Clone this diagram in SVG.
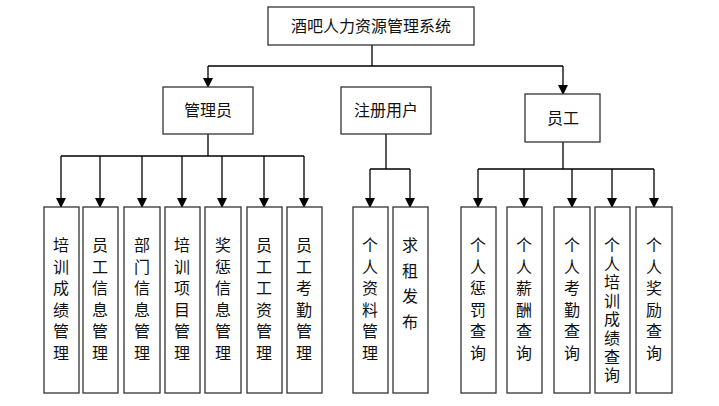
<svg xmlns="http://www.w3.org/2000/svg" width="719" height="406" viewBox="0 0 719 406">
<defs>
<marker id="ah" markerWidth="10" markerHeight="10" refX="9" refY="5" orient="auto" markerUnits="userSpaceOnUse"><path d="M0,0 L10,5 L0,10 Z" fill="#000"/></marker>
<style>
rect{fill:#fff;stroke:#333;stroke-width:1.3}
text{font-family:"Noto Sans CJK SC","Noto Sans CJK JP",sans-serif;font-size:16px;fill:#111;text-anchor:middle}
.c path{fill:none;stroke:#000;stroke-width:1.3}
.a{marker-end:url(#ah)}
</style>
</defs>
<rect x="0" y="0" width="719" height="406" style="fill:#fff;stroke:none"/>
<g class="c">
<path d="M372,45 V66 M208,66 H563"/>
<path class="a" d="M208,66 V87"/><path class="a" d="M563,66 V94"/>
<path d="M208,134 V156 M61,156 H304"/>
<path class="a" d="M61,156 V207"/><path class="a" d="M100,156 V207"/><path class="a" d="M142,156 V207"/><path class="a" d="M182,156 V207"/><path class="a" d="M222,156 V207"/><path class="a" d="M264,156 V207"/><path class="a" d="M304,156 V207"/>
<path d="M386,134 V169 M370,169 H410"/>
<path class="a" d="M370,169 V207"/><path class="a" d="M410,169 V207"/>
<path d="M563,142 V169 M478,169 H654"/>
<path class="a" d="M478,169 V207"/><path class="a" d="M524,169 V207"/><path class="a" d="M572,169 V207"/><path class="a" d="M612,169 V207"/><path class="a" d="M654,169 V207"/>
</g>
<g id="root"><rect x="268" y="7" width="206" height="38"/><text x="371" y="32">酒吧人力资源管理系统</text></g>
<g id="admin"><rect x="163" y="87" width="90" height="47"/><text x="208" y="116">管理员</text></g>
<g id="reg"><rect x="341" y="87" width="90" height="47"/><text x="386" y="116">注册用户</text></g>
<g id="emp"><rect x="525" y="94" width="75" height="48"/><text x="563" y="124">员工</text></g>
<g id="n1"><rect x="44" y="207" width="35" height="186"/><text><tspan x="61" y="251">培</tspan><tspan x="61" dy="21.5">训</tspan><tspan x="61" dy="21.5">成</tspan><tspan x="61" dy="21.5">绩</tspan><tspan x="61" dy="21.5">管</tspan><tspan x="61" dy="21.5">理</tspan></text></g>
<g id="n2"><rect x="83" y="207" width="35" height="186"/><text><tspan x="100" y="251">员</tspan><tspan x="100" dy="21.5">工</tspan><tspan x="100" dy="21.5">信</tspan><tspan x="100" dy="21.5">息</tspan><tspan x="100" dy="21.5">管</tspan><tspan x="100" dy="21.5">理</tspan></text></g>
<g id="n3"><rect x="124" y="207" width="36" height="186"/><text><tspan x="142" y="251">部</tspan><tspan x="142" dy="21.5">门</tspan><tspan x="142" dy="21.5">信</tspan><tspan x="142" dy="21.5">息</tspan><tspan x="142" dy="21.5">管</tspan><tspan x="142" dy="21.5">理</tspan></text></g>
<g id="n4"><rect x="165" y="207" width="35" height="186"/><text><tspan x="182" y="251">培</tspan><tspan x="182" dy="21.5">训</tspan><tspan x="182" dy="21.5">项</tspan><tspan x="182" dy="21.5">目</tspan><tspan x="182" dy="21.5">管</tspan><tspan x="182" dy="21.5">理</tspan></text></g>
<g id="n5"><rect x="205" y="207" width="36" height="186"/><text><tspan x="223" y="251">奖</tspan><tspan x="223" dy="21.5">惩</tspan><tspan x="223" dy="21.5">信</tspan><tspan x="223" dy="21.5">息</tspan><tspan x="223" dy="21.5">管</tspan><tspan x="223" dy="21.5">理</tspan></text></g>
<g id="n6"><rect x="247" y="207" width="35" height="186"/><text><tspan x="264" y="251">员</tspan><tspan x="264" dy="21.5">工</tspan><tspan x="264" dy="21.5">工</tspan><tspan x="264" dy="21.5">资</tspan><tspan x="264" dy="21.5">管</tspan><tspan x="264" dy="21.5">理</tspan></text></g>
<g id="n7"><rect x="287" y="207" width="35" height="186"/><text><tspan x="304" y="251">员</tspan><tspan x="304" dy="21.5">工</tspan><tspan x="304" dy="21.5">考</tspan><tspan x="304" dy="21.5">勤</tspan><tspan x="304" dy="21.5">管</tspan><tspan x="304" dy="21.5">理</tspan></text></g>
<g id="r1"><rect x="353" y="207" width="35" height="186"/><text><tspan x="370" y="251">个</tspan><tspan x="370" dy="21.5">人</tspan><tspan x="370" dy="21.5">资</tspan><tspan x="370" dy="21.5">料</tspan><tspan x="370" dy="21.5">管</tspan><tspan x="370" dy="21.5">理</tspan></text></g>
<g id="r2"><rect x="393" y="207" width="35" height="186"/><text><tspan x="410" y="251">求</tspan><tspan x="410" dy="25.5">租</tspan><tspan x="410" dy="25.5">发</tspan><tspan x="410" dy="25.5">布</tspan></text></g>
<g id="e1"><rect x="461" y="207" width="35" height="186"/><text><tspan x="478" y="251">个</tspan><tspan x="478" dy="21.5">人</tspan><tspan x="478" dy="21.5">惩</tspan><tspan x="478" dy="21.5">罚</tspan><tspan x="478" dy="21.5">查</tspan><tspan x="478" dy="21.5">询</tspan></text></g>
<g id="e2"><rect x="507" y="207" width="35" height="186"/><text><tspan x="524" y="251">个</tspan><tspan x="524" dy="21.5">人</tspan><tspan x="524" dy="21.5">薪</tspan><tspan x="524" dy="21.5">酬</tspan><tspan x="524" dy="21.5">查</tspan><tspan x="524" dy="21.5">询</tspan></text></g>
<g id="e3"><rect x="554" y="207" width="36" height="186"/><text><tspan x="572" y="251">个</tspan><tspan x="572" dy="21.5">人</tspan><tspan x="572" dy="21.5">考</tspan><tspan x="572" dy="21.5">勤</tspan><tspan x="572" dy="21.5">查</tspan><tspan x="572" dy="21.5">询</tspan></text></g>
<g id="e4"><rect x="595" y="207" width="35" height="186"/><text><tspan x="612" y="251">个</tspan><tspan x="612" dy="18.6">人</tspan><tspan x="612" dy="18.6">培</tspan><tspan x="612" dy="18.6">训</tspan><tspan x="612" dy="18.6">成</tspan><tspan x="612" dy="18.6">绩</tspan><tspan x="612" dy="18.6">查</tspan><tspan x="612" dy="18.6">询</tspan></text></g>
<g id="e5"><rect x="636" y="207" width="36" height="186"/><text><tspan x="654" y="251">个</tspan><tspan x="654" dy="21.5">人</tspan><tspan x="654" dy="21.5">奖</tspan><tspan x="654" dy="21.5">励</tspan><tspan x="654" dy="21.5">查</tspan><tspan x="654" dy="21.5">询</tspan></text></g>
</svg>
